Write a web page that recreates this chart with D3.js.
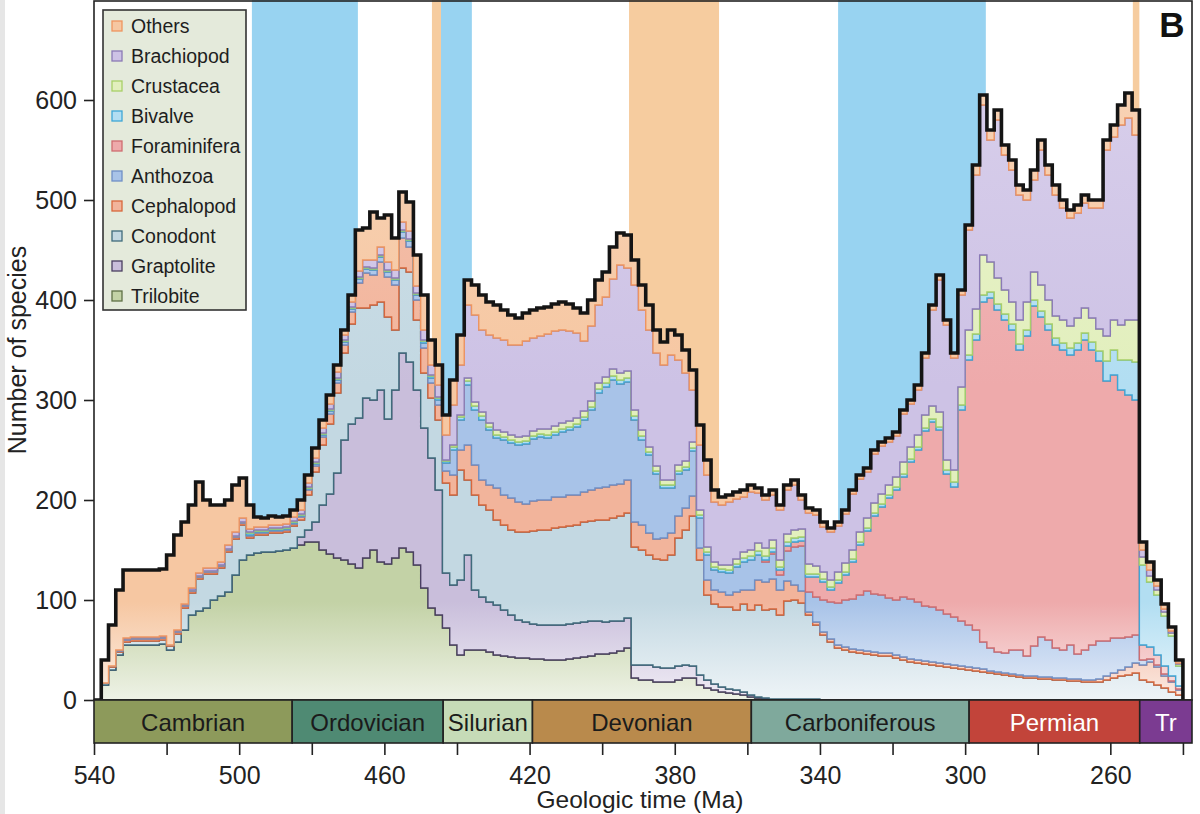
<!DOCTYPE html>
<html lang="en">
<head>
<meta charset="UTF-8">
<title>Number of species through the Paleozoic</title>
<script src="https://d3js.org/d3.v7.min.js"></script>
<style>
  body { margin: 0; background: #fff; }
  svg { display: block; font-family: "Liberation Sans", Arial, Helvetica, sans-serif; }
</style>
</head>
<body>
<svg id="chart" width="1200" height="814"></svg>
<script>
// 2 Ma bins: each value holds from its age down to the next age
const ages = d3.range(540, 239, -2);

const trilobite = [
  0,15,30,45,55,55,55,55,55,56,
  50,58,70,85,89,92,100,104,108,125,
  140,145,147,148,148,149,150,152,155,158,
  158,150,146,142,140,136,132,142,150,138,
  136,142,152,148,135,112,92,85,72,55,
  45,50,50,50,48,45,44,43,42,42,
  41,41,40,40,40,41,42,43,44,46,
  46,47,49,52,22,20,20,18,18,18,
  20,22,22,15,12,10,8,7,6,5,
  3,2,1,1,1,1,1,1,1,1,
  0,0,0,0,0,0,0,0,0,0,
  0,0,0,0,0,0,0,0,0,0,
  0,0,0,0,0,0,0,0,0,0,
  0,0,0,0,0,0,0,0,0,0,
  0,0,0,0,0,0,0,0,0,0,
  0];
const graptolite = [
  0,0,0,0,0,0,0,0,0,0,
  0,0,0,0,0,0,0,0,0,0,
  0,0,0,0,0,0,0,0,8,12,
  20,45,60,85,120,140,150,160,150,172,
  145,168,195,190,175,160,150,125,55,60,
  75,95,60,53,50,50,46,42,38,36,
  35,34,35,35,35,35,35,35,35,33,
  32,32,30,30,13,15,15,15,14,14,
  14,13,12,10,8,6,5,4,4,3,
  2,1,1,0,0,0,0,0,0,0,
  0,0,0,0,0,0,0,0,0,0,
  0,0,0,0,0,0,0,0,0,0,
  0,0,0,0,0,0,0,0,0,0,
  0,0,0,0,0,0,0,0,0,0,
  0,0,0,0,0,0,0,0,0,0,
  0];
const conodont = [
  0,2,3,3,3,4,4,4,4,4,
  4,8,22,22,32,34,26,28,40,36,
  35,17,18,17,19,18,18,22,17,35,
  50,60,70,80,87,100,110,90,95,88,
  102,60,85,90,70,55,60,70,90,90,
  110,75,95,92,92,85,85,85,88,90,
  93,95,95,97,98,98,98,100,100,101,
  102,103,105,105,118,115,110,108,108,113,
  128,135,150,115,85,80,80,82,80,88,
  85,92,88,90,84,98,99,96,84,74,
  65,58,52,50,48,47,46,45,44,44,
  42,40,38,37,36,35,34,33,32,31,
  30,29,28,27,26,25,24,23,22,22,
  21,21,20,20,19,19,18,18,18,20,
  22,24,25,27,20,18,15,12,8,5,
  0];
const cephalopod = [
  0,0,1,1,2,2,2,2,2,2,
  1,2,2,2,2,2,2,2,2,2,
  2,2,2,2,2,2,2,2,3,5,
  6,8,10,10,8,12,25,35,30,40,
  40,45,30,25,20,25,15,15,12,20,
  20,35,30,25,25,32,30,32,30,28,
  30,30,30,31,30,31,30,30,31,32,
  33,33,32,33,25,25,22,20,22,22,
  22,22,20,12,15,14,15,12,18,14,
  20,25,28,30,25,20,15,12,3,3,
  3,3,3,3,3,3,3,3,3,3,
  3,3,3,3,3,3,3,3,3,3,
  3,3,3,2,2,2,2,2,2,2,
  2,2,2,2,2,2,2,2,3,4,
  5,6,8,10,15,20,18,12,10,5,
  0];
const anthozoa = [
  0,0,0,1,1,1,1,1,1,1,
  0,1,1,1,1,1,1,1,1,1,
  1,1,1,1,1,1,1,1,1,1,
  2,2,3,3,3,3,4,4,5,5,
  5,5,6,6,5,5,5,5,8,25,
  30,60,55,60,55,50,55,55,57,60,
  62,63,62,62,65,65,68,72,80,95,
  100,105,100,98,102,85,78,65,50,45,
  42,38,45,30,25,20,20,22,25,28,
  30,25,20,25,15,30,38,45,20,25,
  32,37,42,47,50,55,60,58,58,55,
  55,60,60,58,55,55,53,50,48,45,
  42,38,27,23,20,20,24,25,20,30,
  40,37,30,28,34,25,30,35,38,35,
  35,32,30,28,5,3,2,2,1,1,
  0];
const foraminifera = [
  0,0,0,0,0,0,0,0,0,0,
  0,0,0,0,0,0,0,0,0,0,
  0,0,0,0,0,0,0,0,0,0,
  0,0,0,0,0,0,0,0,0,0,
  0,0,0,0,0,0,0,0,0,0,
  0,0,0,0,0,0,0,0,0,0,
  0,0,0,0,0,0,0,0,0,0,
  0,0,0,0,0,0,0,0,0,0,
  0,0,0,0,0,0,0,0,0,0,
  0,0,2,2,5,5,5,5,15,20,
  18,12,20,25,37,50,60,78,88,100,
  110,120,137,152,175,185,180,140,130,211,
  265,290,340,350,342,333,320,300,320,340,
  320,310,303,300,290,304,310,295,280,260,
  263,248,242,235,15,12,10,8,5,3,
  0];
const bivalve = [
  0,0,0,0,0,0,0,0,0,0,
  0,0,0,0,0,0,0,0,0,0,
  0,2,1,1,1,1,1,1,1,1,
  1,1,1,1,1,1,1,1,1,1,
  1,1,1,1,1,2,2,2,2,3,
  3,4,4,4,3,3,3,3,3,3,
  3,3,3,3,3,3,3,3,3,4,
  4,4,4,4,4,4,3,3,3,3,
  3,3,3,3,3,3,3,3,3,4,
  4,4,4,4,3,4,4,4,3,3,
  3,3,3,3,3,3,3,3,3,3,
  3,3,3,3,3,3,3,4,5,5,
  5,6,7,6,6,6,6,6,6,6,
  6,6,7,7,7,7,7,8,10,20,
  25,30,35,38,80,65,60,50,40,20,
  0];
const crustacea = [
  0,0,0,0,0,0,0,0,0,0,
  0,0,0,0,0,0,0,0,0,0,
  0,1,1,1,1,1,1,1,1,1,
  1,1,1,1,1,1,1,1,1,1,
  1,1,1,1,1,1,1,1,1,2,
  2,3,4,4,4,5,5,5,5,5,
  5,5,6,6,6,6,6,6,6,6,
  6,7,7,7,6,6,5,5,5,5,
  6,6,6,5,5,5,4,5,5,6,
  6,8,8,8,7,8,8,8,10,8,
  7,7,8,9,9,10,10,10,10,10,
  10,12,12,12,13,13,15,10,12,18,
  25,25,40,30,26,24,22,24,28,28,
  26,24,22,23,22,25,25,24,22,25,
  30,35,40,42,8,6,5,4,3,2,
  0];
const brachiopod = [
  0,0,0,0,1,1,1,1,1,1,
  0,1,1,2,3,3,3,3,4,4,
  4,3,3,3,3,3,3,4,4,4,
  4,5,5,6,5,5,6,7,8,8,
  8,8,8,8,7,10,10,12,25,40,
  50,73,87,82,88,92,92,90,92,95,
  93,93,95,95,93,90,85,70,75,78,
  80,90,108,103,125,120,117,113,115,125,
  105,88,52,65,72,60,60,63,60,55,
  58,50,48,45,50,44,45,29,51,51,
  45,48,46,49,56,53,46,49,48,43,
  41,48,43,45,57,96,132,135,112,92,
  100,134,150,122,158,135,132,125,102,92,
  135,125,121,112,108,105,105,110,121,186,
  183,200,202,185,7,6,4,3,2,1,
  0];
const others = [
  0,23,41,60,68,67,67,67,67,67,
  90,95,82,83,91,68,63,57,45,47,
  40,24,10,9,9,8,8,7,10,8,
  10,8,9,7,5,7,41,32,48,29,
  47,32,30,29,31,35,25,20,20,25,
  30,25,30,35,33,33,30,30,27,28,
  28,28,27,27,28,27,25,28,26,25,
  25,32,32,33,25,25,25,23,23,25,
  25,23,20,20,15,12,8,7,7,7,
  7,5,5,5,5,5,5,5,5,5,
  5,4,4,4,4,4,4,4,4,4,
  4,4,4,5,5,5,5,5,5,5,
  5,10,10,10,10,10,10,10,10,10,
  10,10,10,8,8,8,8,8,8,10,
  12,20,25,25,8,8,6,5,4,3,
  0];

// stacking order, bottom to top
const groups = ["Trilobite", "Graptolite", "Conodont", "Cephalopod", "Anthozoa",
                "Foraminifera", "Bivalve", "Crustacea", "Brachiopod", "Others"];
const groupValues = [trilobite, graptolite, conodont, cephalopod, anthozoa,
                     foraminifera, bivalve, crustacea, brachiopod, others];

// shaded time intervals behind the curves
const bandFrom = [496.5, 446.9, 444.4, 392.6, 335.0, 253.8];
const bandTo   = [467.3, 444.4, 435.9, 367.8, 294.3, 252.0];
const bandType = ["cool", "warm", "cool", "warm", "cool", "warm"];

// geologic periods
const periodNames = ["Cambrian", "Ordovician", "Silurian", "Devonian", "Carboniferous", "Permian", "Tr"];
const periodStart = [540, 485.4, 443.8, 419.2, 358.9, 298.9, 251.9];
const periodEnd   = [485.4, 443.8, 419.2, 358.9, 298.9, 251.9, 237.5];

const yTicks = [0, 100, 200, 300, 400, 500, 600];
const xTicks = d3.range(540, 239, -20);
const xLabels = [540, 500, 460, 420, 380, 340, 300, 260];

// ---- styling
const fills = {
  Trilobite: "#c3d2a6", Graptolite: "#c9bedb", Conodont: "#c3d8e2", Cephalopod: "#f2b49b",
  Anthozoa: "#a8c3e8", Foraminifera: "#eeaaab", Bivalve: "#b2def2", Crustacea: "#e2efbd",
  Brachiopod: "#cdc2e5", Others: "#f6c7a2"
};
const strokes = {
  Trilobite: "#5f7046", Graptolite: "#4a3f62", Conodont: "#3f6b7c", Cephalopod: "#d8673d",
  Anthozoa: "#6f90c6", Foraminifera: "#cf6d70", Bivalve: "#3ea6d6", Crustacea: "#a8cf68",
  Brachiopod: "#8a7ab6", Others: "#ee9560"
};
const periodFill = ["#8d9a5b", "#4f8a73", "#c6dbb7", "#b98a4c", "#7fa99c", "#c2443a", "#7b3b91"];
const periodText = ["#1b1b1b", "#1b1b1b", "#1b1b1b", "#1b1b1b", "#1b1b1b", "#ffffff", "#ffffff"];
const textFont = "'Liberation Sans', Arial, sans-serif";

const x = d3.scaleLinear().domain([540, 237.5]).range([94, 1192]);
const y = d3.scaleLinear().domain([0, 700]).range([700, 0]);

const svg = d3.select("#chart");
const defs = svg.append("defs");

// faint scan edge on the far left
svg.append("rect").attr("x", 0).attr("y", 0).attr("width", 5).attr("height", 814).attr("fill", "#e6e6e6");

// background bands
svg.append("g").selectAll("rect")
  .data(bandFrom.map((f, i) => ({ from: f, to: bandTo[i], type: bandType[i] })))
  .join("rect")
  .attr("x", d => x(d.from))
  .attr("width", d => x(d.to) - x(d.from))
  .attr("y", y(700))
  .attr("height", y(0) - y(700))
  .attr("fill", d => d.type === "cool" ? "#98d3f1" : "#f6cc9f");

// build rows and stack
const rows = ages.map((a, i) => {
  const r = { age: a };
  groups.forEach((g, k) => { r[g] = groupValues[k][i]; });
  return r;
});
const series = d3.stack().keys(groups)(rows);

// vertical gradient per group: pale near the baseline, lighter toward the top
groups.forEach((g, i) => {
  const lg = defs.append("linearGradient")
    .attr("id", "grad" + i)
    .attr("gradientUnits", "userSpaceOnUse")
    .attr("x1", 0).attr("x2", 0).attr("y1", y(700)).attr("y2", y(0));
  const c = fills[g];
  const light = k => d3.interpolateRgb(c, "#ffffff")(k);
  [[0, light(0.25)], [0.55, c], [0.86, c], [1, light(0.72)]].forEach(s => {
    lg.append("stop").attr("offset", s[0]).attr("stop-color", s[1]);
  });
});

const area = d3.area()
  .curve(d3.curveStepAfter)
  .x(d => x(d.data.age))
  .y0(d => y(d[0]))
  .y1(d => y(d[1]));

svg.append("g").selectAll("path")
  .data(series)
  .join("path")
  .attr("d", area)
  .attr("fill", (d, i) => `url(#grad${i})`)
  .attr("stroke", d => strokes[d.key])
  .attr("stroke-width", 1.4);

// total outline
const totalLine = d3.line()
  .curve(d3.curveStepAfter)
  .x(d => x(d.data.age))
  .y(d => y(d[1]));
svg.append("path")
  .datum(series[series.length - 1])
  .attr("d", totalLine)
  .attr("fill", "none")
  .attr("stroke", "#141414")
  .attr("stroke-width", 3.6);

// plot frame
svg.append("rect")
  .attr("x", x(540)).attr("y", 1)
  .attr("width", x(237.5) - x(540)).attr("height", y(0) - 1)
  .attr("fill", "none").attr("stroke", "#222").attr("stroke-width", 1.6);

// y axis
const yAxis = svg.append("g")
  .attr("transform", `translate(${x(540)},0)`)
  .call(d3.axisLeft(y).tickValues(yTicks).tickSize(10).tickPadding(7).tickSizeOuter(0));
yAxis.select(".domain").remove();
yAxis.selectAll("line").attr("stroke", "#222").attr("stroke-width", 1.6);
yAxis.selectAll("text").attr("font-size", 25).attr("fill", "#222").attr("font-family", textFont);

svg.append("text")
  .attr("transform", "translate(26,350) rotate(-90)")
  .attr("text-anchor", "middle")
  .attr("font-size", 25).attr("fill", "#222")
  .text("Number of species");

// period bar
const bar = svg.append("g");
const barTop = 700, barH = 43;
bar.selectAll("rect")
  .data(periodNames)
  .join("rect")
  .attr("x", (d, i) => x(periodStart[i]))
  .attr("width", (d, i) => x(periodEnd[i]) - x(periodStart[i]))
  .attr("y", barTop).attr("height", barH)
  .attr("fill", (d, i) => periodFill[i])
  .attr("stroke", "#222").attr("stroke-width", 1.6);
bar.selectAll("text")
  .data(periodNames)
  .join("text")
  .attr("x", (d, i) => (x(periodStart[i]) + x(periodEnd[i])) / 2)
  .attr("y", barTop + 31)
  .attr("text-anchor", "middle")
  .attr("font-size", 24)
  .attr("fill", (d, i) => periodText[i])
  .text(d => d);

// x axis under the period bar
const xAxis = svg.append("g")
  .attr("transform", `translate(0,${barTop + barH})`)
  .call(d3.axisBottom(x).tickValues(xTicks).tickSize(12).tickPadding(11).tickSizeOuter(0)
    .tickFormat(d => xLabels.includes(d) ? d : ""));
xAxis.select(".domain").remove();
xAxis.selectAll("line").attr("stroke", "#222").attr("stroke-width", 1.6);
xAxis.selectAll("text").attr("font-size", 25).attr("fill", "#222").attr("font-family", textFont);

svg.append("text")
  .attr("x", 640).attr("y", 808)
  .attr("text-anchor", "middle")
  .attr("font-size", 24.5).attr("fill", "#222")
  .text("Geologic time (Ma)");

// legend
const legendItems = groups.slice().reverse();
const legend = svg.append("g").attr("transform", "translate(103,10)");
legend.append("rect")
  .attr("width", 143).attr("height", 300)
  .attr("fill", "#e4eadb").attr("stroke", "#333").attr("stroke-width", 1.6);
const li = legend.selectAll("g.item")
  .data(legendItems)
  .join("g")
  .attr("class", "item")
  .attr("transform", (d, i) => `translate(9,${16 + i * 30})`);
li.append("rect")
  .attr("x", 0).attr("y", -5).attr("width", 10).attr("height", 10)
  .attr("fill", d => fills[d]).attr("stroke", d => strokes[d]).attr("stroke-width", 1.3);
li.append("text")
  .attr("x", 19).attr("y", 7)
  .attr("font-size", 19.5).attr("fill", "#1e1e1e")
  .text(d => d);

// panel letter
svg.append("text")
  .attr("x", 1172).attr("y", 37)
  .attr("text-anchor", "middle")
  .attr("font-size", 35).attr("font-weight", "bold").attr("fill", "#111")
  .text("B");
</script>
</body>
</html>
